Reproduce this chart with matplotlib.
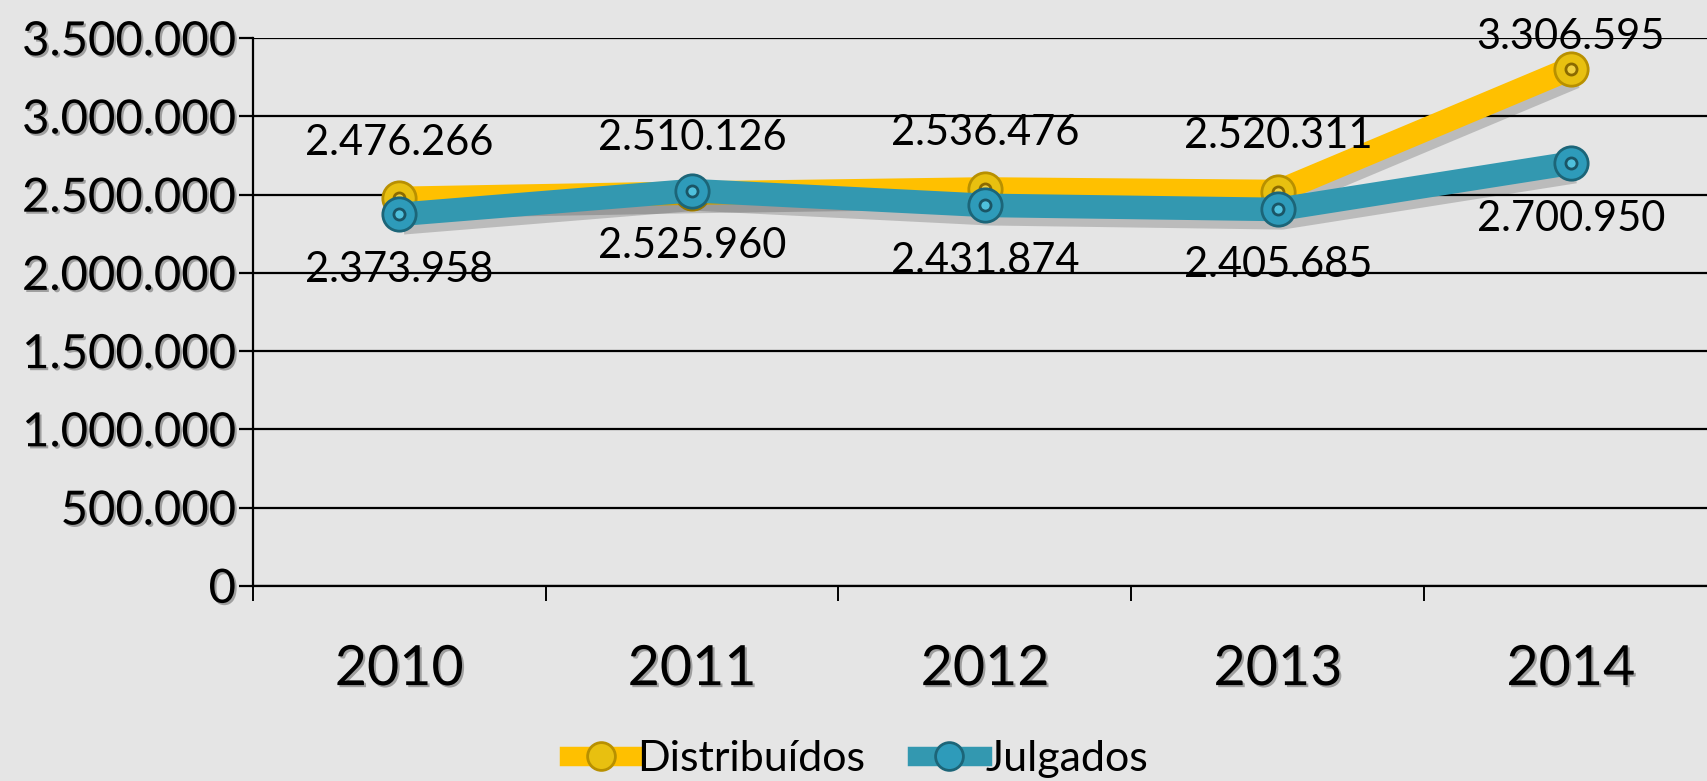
import matplotlib
matplotlib.use("Agg")
import matplotlib.pyplot as plt
import matplotlib.patheffects as pe
from matplotlib.lines import Line2D
from matplotlib.ticker import FixedLocator, FuncFormatter

years = ["2010", "2011", "2012", "2013", "2014"]
distribuidos = [2476266, 2510126, 2536476, 2520311, 3306595]
julgados = [2373958, 2525960, 2431874, 2405685, 2700950]
y_ticks = [0, 500000, 1000000, 1500000, 2000000, 2500000, 3000000, 3500000]
series_names = ["Distribuídos", "Julgados"]

YELLOW = "#FFC000"
TEAL = "#3398B0"
BG = "#E5E5E5"
FONT = ["Lato", "DejaVu Sans"]

def fmt(v):
    return f"{int(v):,}".replace(",", ".")

fig = plt.figure(figsize=(17.07, 7.81), dpi=100, facecolor=BG)
ax = fig.add_axes([0.148, 0.250, 0.858, 0.701])
ax.set_facecolor(BG)

x = list(range(len(years)))
shadow = [pe.SimpleLineShadow(offset=(3, -6), shadow_color="k", alpha=0.18), pe.Normal()]
txt_shadow = [pe.SimplePatchShadow(offset=(1.5, -1.5), shadow_rgbFace="k", alpha=0.3), pe.Normal()]

ax.plot(x, distribuidos, color=YELLOW, lw=17, solid_capstyle="butt", zorder=3, path_effects=shadow)
ax.plot(x, distribuidos, ls="none", marker="o", ms=24, mfc="#E8C010", mec="#B89000", mew=2, zorder=4)
ax.plot(x, distribuidos, ls="none", marker="o", ms=8, mfc="#F0D040", mec="#8A6A00", mew=2, zorder=4)

ax.plot(x, julgados, color=TEAL, lw=17, solid_capstyle="butt", zorder=5, path_effects=shadow)
ax.plot(x, julgados, ls="none", marker="o", ms=24, mfc="#2E9BBA", mec="#1C6578", mew=2, zorder=6)
ax.plot(x, julgados, ls="none", marker="o", ms=8, mfc="#4FC0DC", mec="#1A5566", mew=2, zorder=6)

ax.set_xlim(-0.5, 4.5)
ax.set_ylim(0, 3500000)

# gridlines
ax.yaxis.set_major_locator(FixedLocator(y_ticks))
ax.yaxis.set_major_formatter(FuncFormatter(lambda v, p: fmt(v)))
ax.grid(axis="y", color="black", lw=1.6, zorder=1)
ax.tick_params(axis="y", length=10, width=1.6, pad=2, labelsize=34)
for lab in ax.get_yticklabels():
    lab.set_fontfamily(FONT)
    lab.set_path_effects(txt_shadow)

# x ticks at boundaries, labels at centers
ax.xaxis.set_major_locator(FixedLocator([i - 0.5 for i in range(len(years) + 1)]))
ax.xaxis.set_major_formatter(FuncFormatter(lambda v, p: ""))
ax.set_xticks(x, minor=True)
ax.set_xticklabels(years, minor=True)
ax.tick_params(axis="x", which="major", length=11, width=1.4, direction="out")
ax.tick_params(axis="x", which="minor", length=0, pad=42, labelsize=40)
for lab in ax.get_xticklabels(minor=True):
    lab.set_fontfamily(FONT)
    lab.set_path_effects(txt_shadow)

for s in ["top", "right"]:
    ax.spines[s].set_visible(False)
ax.spines["left"].set_linewidth(1.6)
ax.spines["bottom"].set_linewidth(1.6)
ax.set_axisbelow(True)

# data labels
for i, v in enumerate(distribuidos):
    t = ax.annotate(fmt(v), (i, v), xytext=(0, 40), textcoords="offset points",
                    ha="center", va="center", fontsize=30, family=FONT, zorder=8,
                    annotation_clip=False)
    # keep label inside plot area like the original
    if v > 3100000:
        t.set_position((0, 23))
for i, v in enumerate(julgados):
    ax.annotate(fmt(v), (i, v), xytext=(0, -40), textcoords="offset points",
                ha="center", va="center", fontsize=30, family=FONT, zorder=8,
                annotation_clip=False)

handles = [
    Line2D([], [], color=YELLOW, lw=14, marker="o", ms=20, mfc="#E8C010", mec="#B89000", mew=2),
    Line2D([], [], color=TEAL, lw=14, marker="o", ms=20, mfc="#2E9BBA", mec="#1C6578", mew=2),
]
leg = fig.legend(handles, series_names, loc="center", bbox_to_anchor=(0.503, 0.028), ncol=2,
                 frameon=False, prop={"family": FONT, "size": 31}, handlelength=1.5,
                 handletextpad=0.1, columnspacing=1.2)

fig.savefig("out.png", dpi=100, facecolor=BG)
